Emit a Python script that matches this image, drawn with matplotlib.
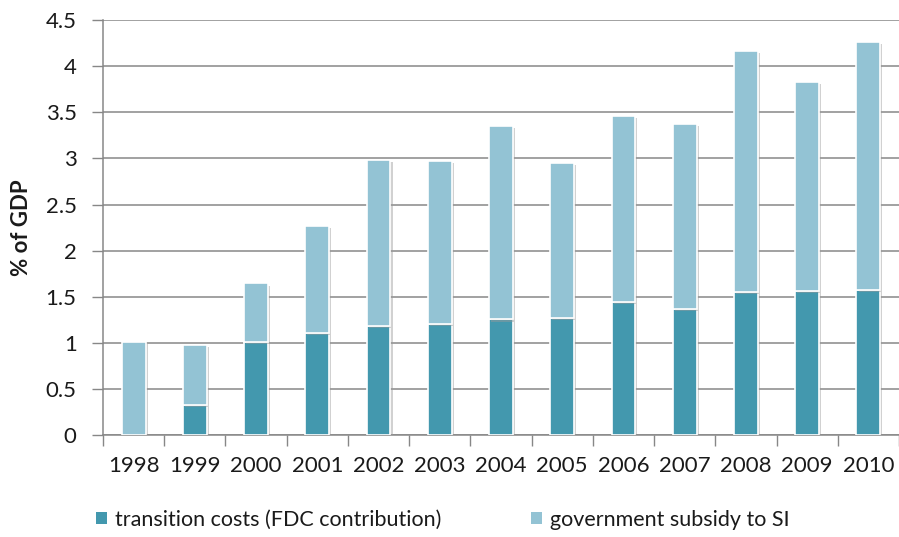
import matplotlib
matplotlib.use("Agg")
import matplotlib.pyplot as plt
import matplotlib.patheffects as pe
from matplotlib.patches import Patch
import numpy as np

years = ["1998", "1999", "2000", "2001", "2002", "2003", "2004",
         "2005", "2006", "2007", "2008", "2009", "2010"]
transition_costs = [0.0, 0.33, 1.015, 1.11, 1.18, 1.21, 1.255,
                    1.27, 1.44, 1.37, 1.555, 1.565, 1.575]
gov_subsidy = [1.01, 0.645, 0.63, 1.16, 1.805, 1.76, 2.10,
               1.68, 2.02, 2.005, 2.61, 2.265, 2.685]
yticks = [0, 0.5, 1, 1.5, 2, 2.5, 3, 3.5, 4, 4.5]
ytick_labels = ["0", "0.5", "1", "1.5", "2", "2.5", "3", "3.5", "4", "4.5"]
series_names = ["transition costs (FDC contribution)", "government subsidy to SI"]

plt.rcParams["font.family"] = ["Lato", "DejaVu Sans"]

dark = "#4398ae"
light = "#93c3d4"
grid = "#878787"

fig = plt.figure(figsize=(8.99, 5.37), dpi=100)
ax = fig.add_axes([103 / 899, 101.7 / 537, 796 / 899, 415.3 / 537])

x = np.arange(len(years))
shadow = [pe.SimplePatchShadow(offset=(1.5, -1.5), shadow_rgbFace="#9a9a9a", alpha=0.45), pe.Normal()]
b1 = ax.bar(x, transition_costs, width=0.39, color=dark, edgecolor="white",
            linewidth=1.2, zorder=3)
b2 = ax.bar(x, gov_subsidy, width=0.39, bottom=transition_costs, color=light,
            edgecolor="white", linewidth=1.2, zorder=3)
for rect in list(b1) + list(b2):
    if rect.get_height() > 0:
        rect.set_path_effects(shadow)

ax.set_xlim(-0.5, len(years) - 0.5)
ax.set_ylim(0, 4.5)
ax.set_yticks(yticks)
ax.set_yticklabels(ytick_labels, fontsize=16, color="#1a1a1a")
ax.set_xticks(x)
ax.set_xticklabels(years, fontsize=16, color="#1a1a1a")
ax.set_xticks(np.arange(-0.5, len(years), 1.0), minor=True)
ax.tick_params(axis="x", which="major", length=0, pad=15)
ax.tick_params(axis="x", which="minor", length=8, width=1, color=grid, direction="out")
ax.tick_params(axis="y", length=8, width=1, color=grid, direction="out", pad=11)

ax.yaxis.grid(True, color=grid, linewidth=1.1, zorder=0)
ax.set_axisbelow(True)
for side in ["top", "right"]:
    ax.spines[side].set_visible(False)
for side in ["left", "bottom"]:
    ax.spines[side].set_color(grid)
    ax.spines[side].set_linewidth(1.1)

fig.text(22 / 899, 1 - 228 / 537, "% of GDP", rotation=90, fontsize=16,
         fontweight="bold", ha="center", va="center", color="#1a1a1a")

handles = [Patch(facecolor=dark, edgecolor="none", label=series_names[0]),
           Patch(facecolor=light, edgecolor="none", label=series_names[1])]
leg = fig.legend(handles=handles, loc="center left", bbox_to_anchor=(77 / 899, 1 - 520 / 537),
                 ncol=2, frameon=False, fontsize=15.5, handlelength=0.5,
                 handleheight=0.5, handletextpad=0.35, columnspacing=4.2)
for t in leg.get_texts():
    t.set_color("#1a1a1a")

fig.savefig("out.png", dpi=100)
